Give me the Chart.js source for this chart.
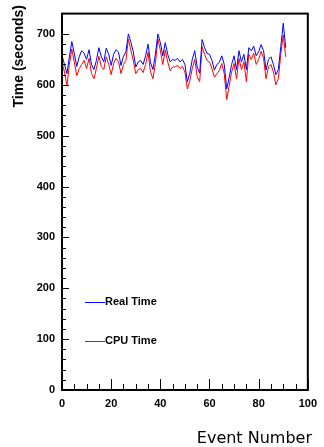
<!DOCTYPE html>
<html>
<head>
<meta charset="utf-8">
<script src="https://cdn.jsdelivr.net/npm/chart.js@4"></script>
<style>
  html, body { margin: 0; padding: 0; background: #fff; }
  canvas { display: block; }
</style>
</head>
<body>
<canvas id="timeChart" width="324" height="447"></canvas>
<script>
// values, one per event (event number = index)
const realTime = [
    658, 640, 622, 655, 685, 662, 636, 655, 667, 662,
    650, 669, 640, 630, 648, 673, 655, 645, 672, 660,
    638, 660, 669, 664, 638, 656, 665, 700, 684, 665,
    635, 645, 648, 640, 657, 680, 644, 630, 660, 700,
    683, 657, 683, 660, 645, 650, 648, 652, 645, 650,
    640, 606, 623, 650, 667, 635, 623, 689, 673, 662,
    660, 648, 629, 640, 644, 657, 640, 592, 615, 640,
    657, 630, 667, 645, 660, 630, 673, 667, 676, 657,
    665, 679, 667, 629, 650, 655, 640, 620, 630, 675,
    721, 673
];
const cpuTime = [
    645, 625, 598, 640, 670, 645, 618, 632, 640, 648,
    632, 652, 622, 612, 632, 656, 636, 630, 655, 640,
    620, 642, 652, 645, 622, 640, 648, 690, 668, 648,
    622, 630, 632, 624, 640, 664, 625, 612, 642, 690,
    668, 640, 668, 645, 628, 635, 635, 638, 632, 636,
    625, 592, 608, 632, 650, 616, 606, 675, 660, 648,
    645, 632, 615, 622, 628, 642, 622, 571, 598, 625,
    642, 612, 652, 630, 645, 606, 660, 650, 662, 640,
    650, 666, 652, 612, 635, 640, 625, 600, 612, 660,
    698, 655
];
const xTicks = [0, 20, 40, 60, 80, 100];
const yTicks = [0, 100, 200, 300, 400, 500, 600, 700];

function toPoints(values) {
    return values.map((v, i) => ({ x: i, y: v }));
}

// frame, inward tick marks, titles and the in-plot legend
const framePlugin = {
    id: 'framePlugin',
    afterDraw(chart) {
        const { ctx, chartArea: a, scales: { x, y } } = chart;
        ctx.save();
        ctx.strokeStyle = '#000';
        ctx.lineWidth = 2;
        ctx.strokeRect(a.left, a.top, a.right - a.left, a.bottom - a.top);

        ctx.beginPath();
        for (let v = 0; v <= 700; v += 20) {
            const py = Math.round(y.getPixelForValue(v)) + 0.5;
            const len = v % 100 === 0 ? 7 : 4;
            ctx.moveTo(a.left, py);
            ctx.lineTo(a.left + len, py);
        }
        for (let v = 0; v <= 100; v += 5) {
            const px = Math.round(x.getPixelForValue(v)) + 0.5;
            const len = v % 20 === 0 ? 11 : 6;
            ctx.moveTo(px, a.bottom);
            ctx.lineTo(px, a.bottom - len);
        }
        ctx.lineWidth = 1;
        ctx.stroke();

        // legend
        const items = [
            { label: 'Real Time', color: '#0000ff', y: 302 },
            { label: 'CPU Time', color: '#ff0000', y: 341 }
        ];
        ctx.font = 'bold 11px "Liberation Sans", Arial, sans-serif';
        ctx.textBaseline = 'middle';
        ctx.textAlign = 'left';
        items.forEach(item => {
            ctx.strokeStyle = item.color;
            ctx.beginPath();
            ctx.moveTo(85, item.y + 0.5);
            ctx.lineTo(105, item.y + 0.5);
            ctx.stroke();
            ctx.fillStyle = '#000';
            ctx.fillText(item.label, 105, item.y);
        });

        // axis titles
        ctx.fillStyle = '#000';
        ctx.font = '16px "DejaVu Sans", sans-serif';
        ctx.textAlign = 'right';
        ctx.textBaseline = 'alphabetic';
        ctx.fillText('Event Number', 312, 443);

        ctx.translate(23, 5);
        ctx.rotate(-Math.PI / 2);
        ctx.font = 'bold 14px "Liberation Sans", Arial, sans-serif';
        ctx.textAlign = 'right';
        ctx.textBaseline = 'alphabetic';
        ctx.fillText('Time (seconds)', 0, 0);
        ctx.restore();
    }
};

Chart.defaults.color = '#000';

new Chart(document.getElementById('timeChart').getContext('2d'), {
    type: 'line',
    data: {
        datasets: [{
            label: 'Real Time',
            data: toPoints(realTime),
            borderColor: '#0000ff',
            borderWidth: 1,
            pointRadius: 0,
            tension: 0,
            fill: false
        }, {
            label: 'CPU Time',
            data: toPoints(cpuTime),
            borderColor: '#ff0000',
            borderWidth: 1,
            pointRadius: 0,
            tension: 0,
            fill: false
        }]
    },
    options: {
        responsive: false,
        animation: false,
        layout: { padding: { top: 6, right: 7, left: 0, bottom: 0 } },
        plugins: {
            legend: { display: false },
            tooltip: { enabled: false }
        },
        scales: {
            x: {
                type: 'linear',
                min: 0,
                max: 100,
                afterBuildTicks: s => { s.ticks = xTicks.map(v => ({ value: v })); },
                afterFit: s => { s.height = 57; },
                grid: { display: false, drawTicks: false },
                border: { display: false },
                ticks: {
                    autoSkip: false,
                    maxRotation: 0,
                    padding: 7,
                    font: { family: '"Liberation Sans", Arial, sans-serif', size: 11, weight: 'bold' }
                }
            },
            y: {
                type: 'linear',
                min: 0,
                max: 740,
                afterBuildTicks: s => { s.ticks = yTicks.map(v => ({ value: v })); },
                afterFit: s => { s.width = 62; },
                grid: { display: false, drawTicks: false },
                border: { display: false },
                ticks: {
                    padding: 7,
                    font: { family: '"Liberation Sans", Arial, sans-serif', size: 11, weight: 'bold' }
                }
            }
        }
    },
    plugins: [framePlugin]
});
</script>
</body>
</html>
